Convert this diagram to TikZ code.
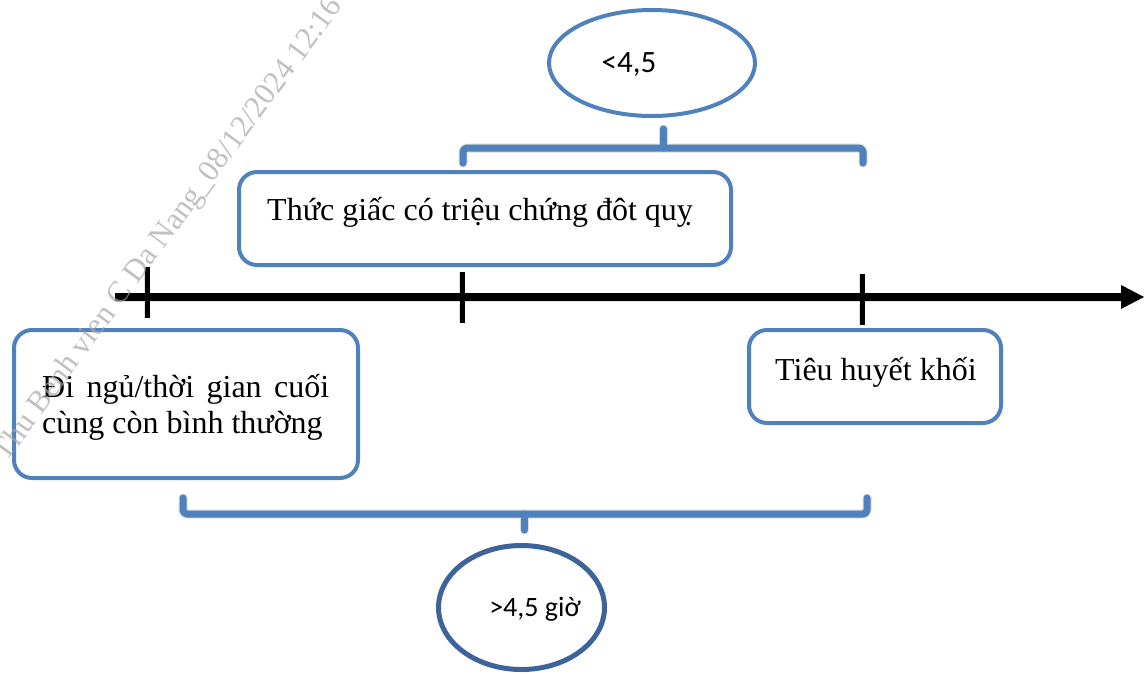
\documentclass[tikz,border=0pt]{standalone}
\usepackage{fontspec}
\setmainfont{Liberation Serif}
\newfontfamily\calfont{Carlito}
\usetikzlibrary{shapes.geometric}
\definecolor{boxblue}{RGB}{79,129,189}
\definecolor{ovalblue}{RGB}{60,100,155}
\begin{document}
\begin{tikzpicture}[x=1pt,y=-1pt,
  box/.style={draw=boxblue,line width=4pt,rounded corners=18pt,fill=white,inner sep=0pt},
  oval/.style={ellipse,draw=boxblue,line width=4pt,fill=white,inner sep=0pt},
  boxtext/.style={font=\fontsize{32}{36}\selectfont,inner sep=0pt,anchor=base west},
  ovaltext/.style={font=\calfont\fontsize{28}{32}\selectfont,inner sep=0pt,anchor=base},
  axisline/.style={line width=8pt},
  tickmark/.style={line width=5pt},
  brace/.style={draw=boxblue,line width=7pt,line cap=round,line join=round,rounded corners=4pt},
  braceshade/.style={draw=black!14,line width=9pt,line cap=round,line join=round,rounded corners=4pt},
  axisshade/.style={draw=black!12,line width=9pt},
  stamp/.style={font=\fontsize{31}{34}\selectfont,text=black!35,opacity=.7,inner sep=0pt},
]
\useasboundingbox[fill=white] (0,0) rectangle (1145,673);

% time axis and its marks
\coordinate (t0) at (115,297);
\coordinate (tend) at (1121,297);
\coordinate (tip) at (1144,297);
\coordinate (k1a) at (147,267); \coordinate (k1b) at (147,318);
\coordinate (k2a) at (462,272); \coordinate (k2b) at (462,323);
\coordinate (k3a) at (862,274); \coordinate (k3b) at (862,325);

% upper bracket
\coordinate (ba1) at (463,163); \coordinate (ba2) at (863,163);
\coordinate (bamid) at (663,148); \coordinate (batop) at (663,129);
% lower bracket
\coordinate (bb1) at (183,498); \coordinate (bb2) at (867,498);
\coordinate (bbmid) at (524,514); \coordinate (bbbot) at (524,530);

% soft shadows
\begin{scope}[shift={(2pt,-4pt)}]
  \draw[axisshade] (t0) -- (tend);
  \draw[braceshade] (ba1) -- (ba1 |- bamid) -- (ba2 |- bamid) -- (ba2);
  \draw[braceshade] (bamid) -- (batop);
  \draw[braceshade] (bb1) -- (bb1 |- bbmid) -- (bb2 |- bbmid) -- (bb2);
  \draw[braceshade] (bbmid) -- (bbbot);
  \draw[draw=black!12,line width=6pt] (k1a) -- (k1b) (k2a) -- (k2b) (k3a) -- (k3b);
\end{scope}

% brackets
\draw[brace] (ba1) -- (ba1 |- bamid) -- (ba2 |- bamid) -- (ba2);
\draw[brace] (bamid) -- (batop);
\draw[brace] (bb1) -- (bb1 |- bbmid) -- (bb2 |- bbmid) -- (bb2);
\draw[brace] (bbmid) -- (bbbot);

% axis
\draw[axisline] (t0) -- (tend);
\fill ([yshift=12pt]tend) -- (tip) -- ([yshift=-12pt]tend) -- cycle;
\draw[tickmark] (k1a) -- (k1b);
\draw[tickmark] (k2a) -- (k2b);
\draw[tickmark] (k3a) -- (k3b);

% event boxes
\node[box,minimum width=492pt,minimum height=93pt] (wake) at (485,218.5) {};
\node[boxtext] (waketxt) at (267,220) {Thức giấc có triệu chứng đôt quỵ};

\node[box,minimum width=344pt,minimum height=148pt] (sleep) at (186,404) {};
\node[boxtext] (sleepa) at (42,397) {\makebox[287pt][s]{Đi ngủ/thời gian cuối}};
\node[boxtext] (sleepb) at (42,433) {cùng còn bình thường};

\node[box,minimum width=252pt,minimum height=93pt] (lysis) at (875,376.5) {};
\node[boxtext] (lysistxt) at (775,380) {Tiêu huyết khối};

% interval ovals
\node[oval,minimum width=206pt,minimum height=106pt] (short) at (652,63) {};
\node[ovaltext,font=\calfont\fontsize{31}{34}\selectfont] (shorttxt) at (629,72) {<4,5};

\node[oval,draw=ovalblue,line width=5pt,minimum width=166pt,minimum height=124pt] (long) at (521.5,607.5) {};
\node[ovaltext] (longtxt) at (535,616) {>4,5 giờ};

% diagonal stamp
\node[stamp,rotate=53.6] (wm) at (169,230) {Thu Benh vien C Da Nang\_08/12/2024 12:16};
\end{tikzpicture}
\end{document}
